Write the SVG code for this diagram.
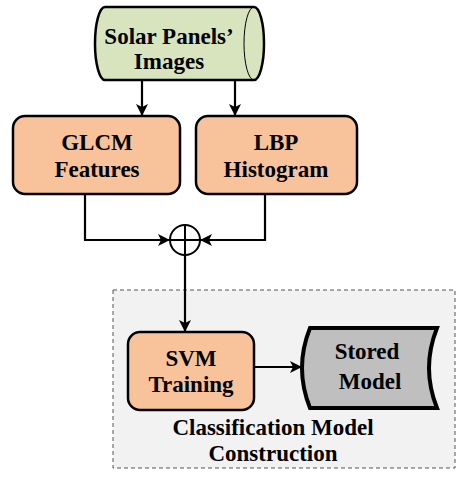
<svg xmlns="http://www.w3.org/2000/svg" width="470" height="480" viewBox="0 0 470 480">
<defs>
<marker id="ah" markerWidth="12" markerHeight="12" viewBox="0 0 12 12" refX="12" refY="6" orient="auto" markerUnits="userSpaceOnUse">
<path d="M0,0 L12,6 L0,12 L3,6 Z" fill="#000"/>
</marker>
<style>
text{font-family:"Liberation Serif","Times New Roman",serif;font-weight:bold;font-size:23px;fill:#000;text-anchor:middle}
.box{fill:#f8c39b;stroke:#000;stroke-width:2.5}
.ln{fill:none;stroke:#000;stroke-width:2.2}
</style>
</defs>
<rect x="113" y="290" width="342" height="178" fill="#f2f2f2" stroke="#555" stroke-width="1" stroke-dasharray="4,3"/>
<g id="images">
<path d="M105,7 L254,7 A10,36.5 0 0 1 254,80 L105,80 A10,36.5 0 0 1 105,7 Z" fill="#d7e4bd" stroke="#000" stroke-width="2.5"/>
<path d="M254,7 A10,36.5 0 0 0 254,80" fill="none" stroke="#000" stroke-width="1"/>
<text x="169" y="44">Solar Panels’</text>
<text x="169" y="69">Images</text>
</g>
<g id="glcm">
<rect class="box" x="13" y="116" width="167" height="78" rx="12"/>
<text x="97" y="150">GLCM</text>
<text x="97" y="177">Features</text>
</g>
<g id="lbp">
<rect class="box" x="196" y="116" width="161" height="78" rx="12"/>
<text x="276" y="150">LBP</text>
<text x="276" y="177">Histogram</text>
</g>
<g id="concat">
<circle cx="185" cy="240" r="15" fill="#fff" stroke="#000" stroke-width="2"/>
<path d="M170,240 H200 M185,225 V255" stroke="#000" stroke-width="2"/>
</g>
<g id="svm">
<rect class="box" x="128" y="332" width="126" height="78" rx="12"/>
<text x="191" y="366">SVM</text>
<text x="191" y="392">Training</text>
</g>
<g id="stored">
<path d="M310,328 L437,328 Q421,368 437,408 L310,408 Q294,368 310,328 Z" fill="#bfbfbf" stroke="#000" stroke-width="4"/>
<text x="367" y="359">Stored</text>
<text x="370" y="389">Model</text>
</g>
<g id="label">
<text x="273" y="435">Classification Model</text>
<text x="273" y="461">Construction</text>
</g>
<g id="connectors">
<path class="ln" d="M142,80 V116" marker-end="url(#ah)"/>
<path class="ln" d="M235,80 V116" marker-end="url(#ah)"/>
<path class="ln" d="M85,194 V240 H170" marker-end="url(#ah)"/>
<path class="ln" d="M265,194 V240 H200" marker-end="url(#ah)"/>
<path class="ln" d="M185,255 V332" marker-end="url(#ah)"/>
<path class="ln" d="M254,367 H302" marker-end="url(#ah)"/>
</g>
</svg>
